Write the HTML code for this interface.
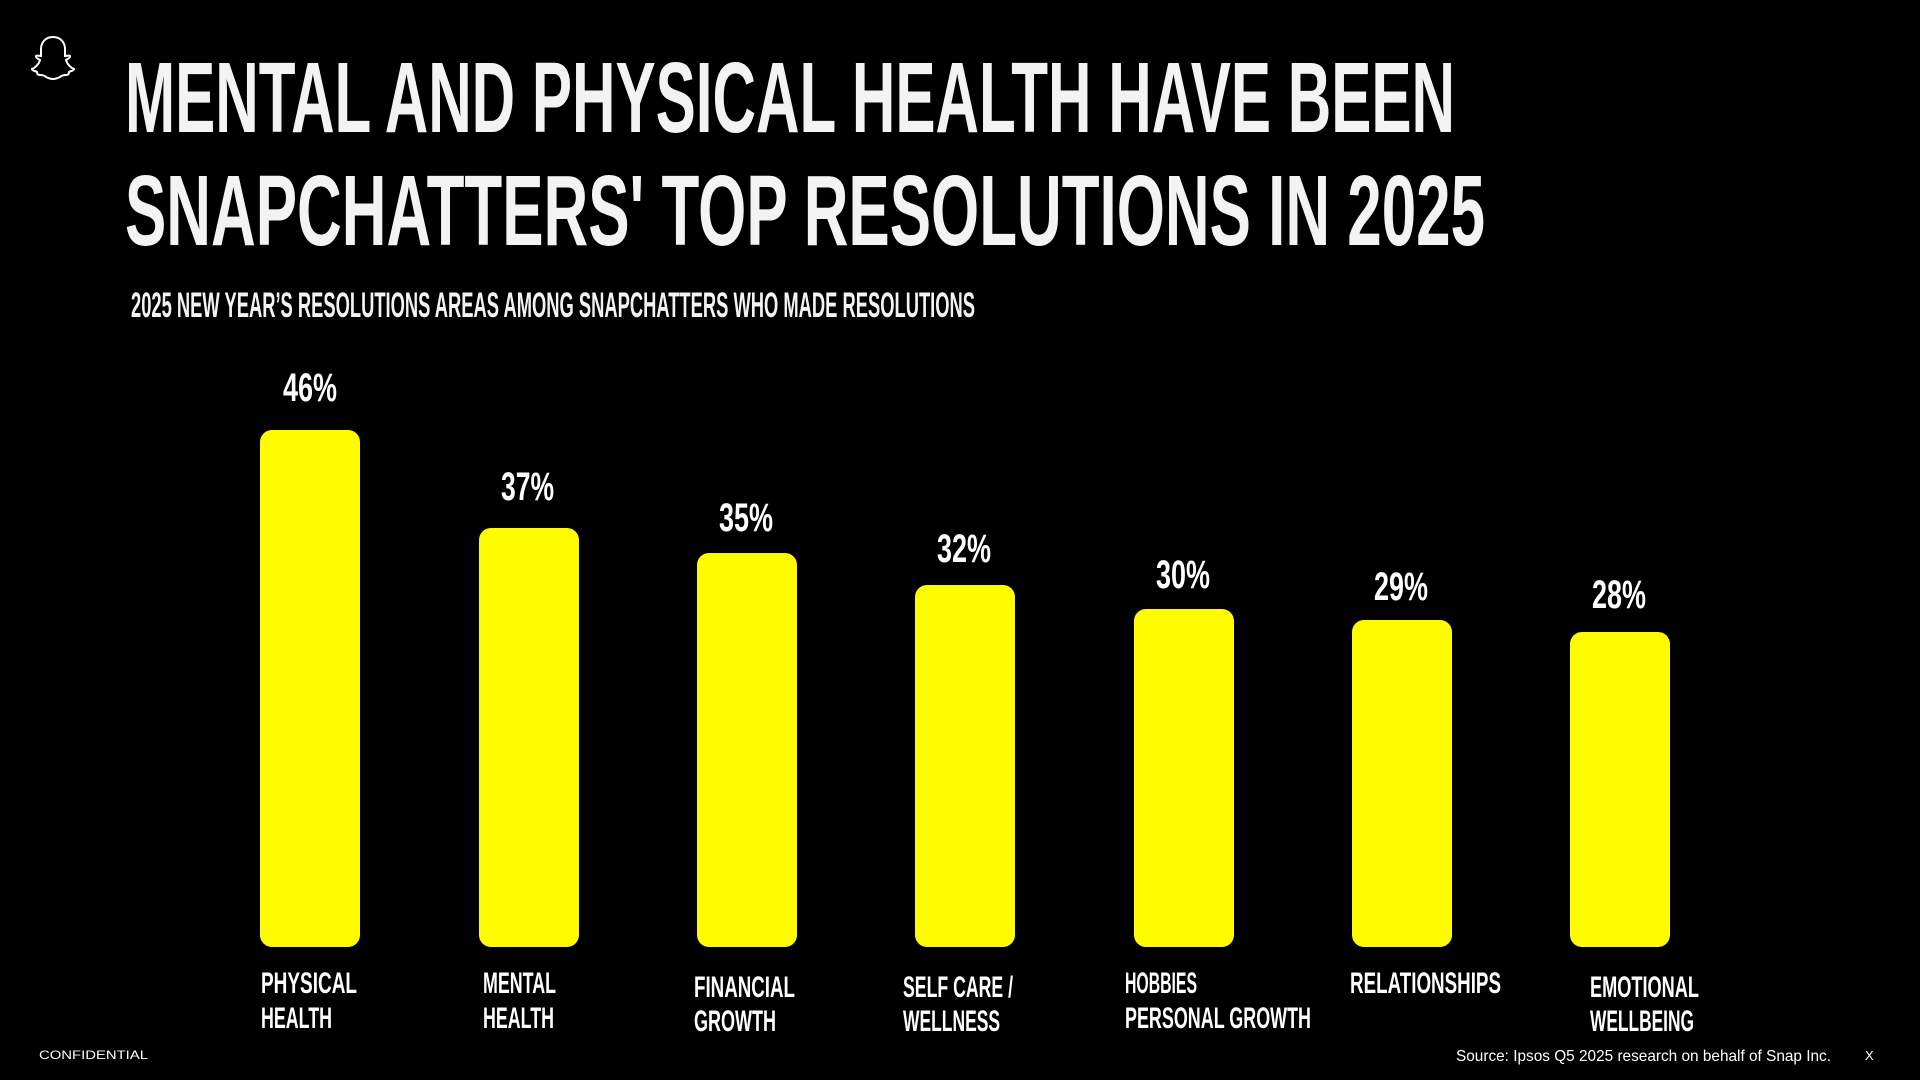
<!DOCTYPE html>
<html><head><meta charset="utf-8"><style>
html,body{margin:0;padding:0;background:#000;width:1920px;height:1080px;overflow:hidden}
svg{display:block}
.t{font-family:"Liberation Sans Narrow","Liberation Sans",sans-serif;font-weight:bold;fill:#f3f3f3}
.s{font-family:"Liberation Sans",sans-serif;fill:#fff}
</style></head><body>
<svg width="1920" height="1080" viewBox="0 0 1920 1080" xmlns="http://www.w3.org/2000/svg">
<rect width="1920" height="1080" fill="#000"/>
<path d="M53 37c-8 0-12 6-12 12v7c-2 0-4-1-5 0-1 2 3 3 4 4-1 4-5 8-8 9 0 2 4 2 5 3 0 2 1 3 3 3 2 0 4 0 6 2 2 1 4 2 7 2s5-1 7-2c2-2 4-2 6-2 2 0 3-1 3-3 1-1 5-1 5-3-3-1-7-5-8-9 1-1 5-2 4-4-1-1-3 0-5 0v-7c0-6-4-12-12-12z" fill="none" stroke="#fff" stroke-width="2"/>
<text class="t" x="125" y="132" font-size="100" textLength="1330" lengthAdjust="spacingAndGlyphs">MENTAL AND PHYSICAL HEALTH HAVE BEEN</text>
<text class="t" x="125" y="245" font-size="100" textLength="1360" lengthAdjust="spacingAndGlyphs">SNAPCHATTERS' TOP RESOLUTIONS IN 2025</text>
<text class="t" x="131" y="317" font-size="35" textLength="844" lengthAdjust="spacingAndGlyphs">2025 NEW YEAR’S RESOLUTIONS AREAS AMONG SNAPCHATTERS WHO MADE RESOLUTIONS</text>
<g fill="#FFFC00">
<rect x="260" y="430" width="100" height="517" rx="12"/>
<rect x="479" y="528" width="100" height="419" rx="12"/>
<rect x="697" y="553" width="100" height="394" rx="12"/>
<rect x="915" y="585" width="100" height="362" rx="12"/>
<rect x="1134" y="609" width="100" height="338" rx="12"/>
<rect x="1352" y="620" width="100" height="327" rx="12"/>
<rect x="1570" y="632" width="100" height="315" rx="12"/>
</g>
<g class="t" font-size="40" style="fill:#fff">
<text x="283" y="401" textLength="54" lengthAdjust="spacingAndGlyphs">46%</text>
<text x="501" y="500" textLength="53" lengthAdjust="spacingAndGlyphs">37%</text>
<text x="719" y="531" textLength="54" lengthAdjust="spacingAndGlyphs">35%</text>
<text x="937" y="562" textLength="54" lengthAdjust="spacingAndGlyphs">32%</text>
<text x="1156" y="588" textLength="54" lengthAdjust="spacingAndGlyphs">30%</text>
<text x="1374" y="600" textLength="54" lengthAdjust="spacingAndGlyphs">29%</text>
<text x="1592" y="608" textLength="54" lengthAdjust="spacingAndGlyphs">28%</text>
</g>
<g class="t" font-size="30" style="fill:#fff">
<text x="261" y="993" textLength="96" lengthAdjust="spacingAndGlyphs">PHYSICAL</text>
<text x="261" y="1028" textLength="71" lengthAdjust="spacingAndGlyphs">HEALTH</text>
<text x="483" y="993" textLength="73" lengthAdjust="spacingAndGlyphs">MENTAL</text>
<text x="483" y="1028" textLength="71" lengthAdjust="spacingAndGlyphs">HEALTH</text>
<text x="694" y="997" textLength="101" lengthAdjust="spacingAndGlyphs">FINANCIAL</text>
<text x="694" y="1031" textLength="82" lengthAdjust="spacingAndGlyphs">GROWTH</text>
<text x="903" y="997" textLength="110" lengthAdjust="spacingAndGlyphs">SELF CARE /</text>
<text x="903" y="1031" textLength="97" lengthAdjust="spacingAndGlyphs">WELLNESS</text>
<text x="1125" y="993" textLength="72" lengthAdjust="spacingAndGlyphs">HOBBIES</text>
<text x="1125" y="1028" textLength="186" lengthAdjust="spacingAndGlyphs">PERSONAL GROWTH</text>
<text x="1350" y="993" textLength="151" lengthAdjust="spacingAndGlyphs">RELATIONSHIPS</text>
<text x="1590" y="997" textLength="109" lengthAdjust="spacingAndGlyphs">EMOTIONAL</text>
<text x="1590" y="1031" textLength="104" lengthAdjust="spacingAndGlyphs">WELLBEING</text>
</g>
<text class="s" x="39" y="1059" font-size="12" textLength="109" lengthAdjust="spacingAndGlyphs">CONFIDENTIAL</text>
<text class="s" x="1456" y="1061" font-size="16" textLength="375" lengthAdjust="spacingAndGlyphs">Source: Ipsos Q5 2025 research on behalf of Snap Inc.</text>
<text class="s" x="1865" y="1060" font-size="13">X</text>
</svg>
</body></html>
